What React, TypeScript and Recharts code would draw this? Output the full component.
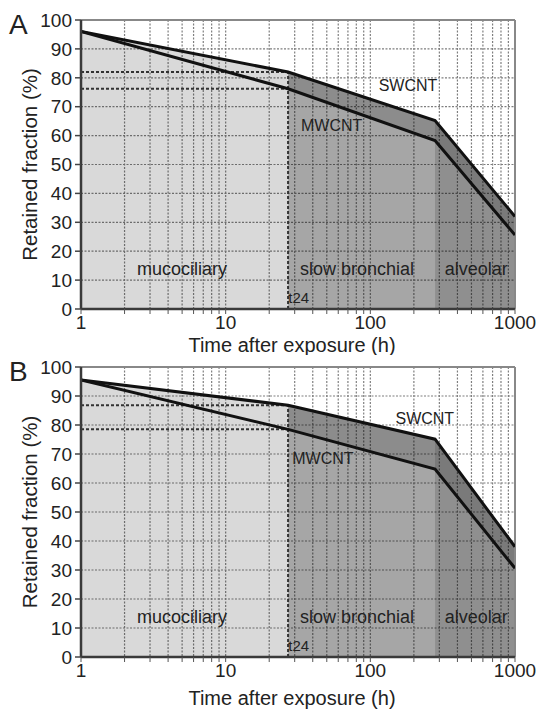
import {
  ComposedChart,
  Area,
  Line,
  XAxis,
  YAxis,
  CartesianGrid,
  ReferenceLine,
  ReferenceDot,
  Label,
} from 'recharts';

// time points (h) where the retention curves change slope
const hours = [1, 27, 280, 1000];
const T24 = 27;
const ALV_START = 280;

// retained fraction (%)
const swcntA = [96, 82, 65.2, 32];
const mwcntA = [96, 76.2, 58.3, 25.6];
const swcntB = [95.5, 86.8, 75.1, 38];
const mwcntB = [95.5, 78.5, 64.8, 30.6];

const xTicks = [
  1, 2, 3, 4, 5, 6, 7, 8, 9, 10, 20, 30, 40, 50, 60, 70, 80, 90, 100, 200, 300, 400, 500, 600,
  700, 800, 900, 1000,
];
const xLabels = [1, 10, 100, 1000];
const yTicks = [0, 10, 20, 30, 40, 50, 60, 70, 80, 90, 100];

const FONT = '"Liberation Sans", Arial, Helvetica, sans-serif';
const INK = '#222';

type Row = {
  h: number;
  sw: number;
  mw: number;
  muco: number | null;
  bronBase: number | null;
  bronBand: [number, number] | null;
  alvBase: number | null;
  alvBand: [number, number] | null;
};

function buildRows(sw: number[], mw: number[]): Row[] {
  return hours.map((h, i) => {
    const inBron = h >= T24 && h <= ALV_START;
    const inAlv = h >= ALV_START;
    return {
      h,
      sw: sw[i],
      mw: mw[i],
      muco: h <= T24 ? sw[i] : null,
      bronBase: inBron ? mw[i] : null,
      bronBand: inBron ? [mw[i], sw[i]] : null,
      alvBase: inAlv ? mw[i] : null,
      alvBand: inAlv ? [mw[i], sw[i]] : null,
    };
  });
}

interface PanelProps {
  letter: string;
  sw: number[];
  mw: number[];
  top: number;
  height: number;
  marginTop: number;
  axisHeight: number;
  titleDy: number;
  swLabel: { x: number; y: number };
  mwLabel: { x: number; y: number };
}

const textLabel = (value: string, size: number) => ({
  value,
  position: 'center' as const,
  fontSize: size,
  fill: INK,
  fontFamily: FONT,
});

function Panel({ letter, sw, mw, top, height, marginTop, axisHeight, titleDy, swLabel, mwLabel }: PanelProps) {
  const rows = buildRows(sw, mw);
  const i24 = hours.indexOf(T24);

  const yTitle = (props: any) => {
    const vb = props.viewBox;
    const cx = vb.x + 29;
    const cy = vb.y + vb.height / 2;
    return (
      <text
        x={cx}
        y={cy}
        transform={`rotate(-90 ${cx} ${cy})`}
        textAnchor="middle"
        dominantBaseline="central"
        fontSize={20.5}
        fontFamily={FONT}
        fill={INK}
      >
        Retained fraction (%)
      </text>
    );
  };

  const xTitle = (props: any) => {
    const vb = props.viewBox;
    return (
      <text
        x={vb.x + vb.width / 2 - 6}
        y={vb.y + titleDy}
        textAnchor="middle"
        dominantBaseline="central"
        fontSize={20}
        fontFamily={FONT}
        fill={INK}
      >
        Time after exposure (h)
      </text>
    );
  };

  return (
    <div style={{ position: 'absolute', left: 0, top, width: 536, height }}>
      <ComposedChart
        width={536}
        height={height}
        data={rows}
        margin={{ top: marginTop, right: 21, bottom: 0, left: 0 }}
      >
        <CartesianGrid stroke="#7f7f7f" strokeDasharray="2 1.5" strokeWidth={1.2} />
        <XAxis
          dataKey="h"
          type="number"
          scale="log"
          domain={[1, 1000]}
          ticks={xTicks}
          interval={0}
          allowDataOverflow
          height={axisHeight}
          tickSize={5}
          tickMargin={2}
          tickFormatter={(v: number) => (xLabels.includes(v) ? String(v) : '')}
          tick={{ fontSize: 19, fill: INK, fontFamily: FONT }}
          axisLine={{ stroke: '#3a3a3a', strokeWidth: 2.5 }}
          tickLine={{ stroke: '#555' }}
        >
          <Label content={xTitle} />
        </XAxis>
        <YAxis
          type="number"
          domain={[0, 100]}
          ticks={yTicks}
          interval={0}
          width={81}
          tickSize={6}
          tickMargin={3}
          tick={{ fontSize: 19, fill: INK, fontFamily: FONT }}
          axisLine={{ stroke: '#3a3a3a', strokeWidth: 2.5 }}
          tickLine={{ stroke: '#444', strokeWidth: 1.5 }}
        >
          <Label content={yTitle} />
        </YAxis>

        <Area dataKey="muco" stroke="none" fill="#000" fillOpacity={0.15} isAnimationActive={false} />
        <Area dataKey="bronBase" stroke="none" fill="#000" fillOpacity={0.35} isAnimationActive={false} />
        <Area dataKey="bronBand" stroke="none" fill="#000" fillOpacity={0.45} isAnimationActive={false} />
        <Area dataKey="alvBase" stroke="none" fill="#000" fillOpacity={0.44} isAnimationActive={false} />
        <Area dataKey="alvBand" stroke="none" fill="#000" fillOpacity={0.52} isAnimationActive={false} />

        <ReferenceLine y={100} stroke="#888" strokeWidth={2} />
        <ReferenceLine x={1000} stroke="#888" strokeWidth={2} />

        <ReferenceLine
          segment={[{ x: 1, y: sw[i24] }, { x: T24, y: sw[i24] }]}
          stroke="#333"
          strokeWidth={2}
          strokeDasharray="3 2"
        />
        <ReferenceLine
          segment={[{ x: 1, y: mw[i24] }, { x: T24, y: mw[i24] }]}
          stroke="#333"
          strokeWidth={2}
          strokeDasharray="3 2"
        />
        <ReferenceLine
          segment={[{ x: T24, y: 0 }, { x: T24, y: sw[i24] }]}
          stroke="#333"
          strokeWidth={2}
          strokeDasharray="3 2"
        />

        <Line dataKey="sw" type="linear" stroke="#111" strokeWidth={3} dot={false} isAnimationActive={false} />
        <Line dataKey="mw" type="linear" stroke="#111" strokeWidth={3} dot={false} isAnimationActive={false} />

        <ReferenceDot x={5} y={14} r={0} fill="none" stroke="none" label={textLabel('mucociliary', 18)} />
        <ReferenceDot x={81} y={14} r={0} fill="none" stroke="none" label={textLabel('slow bronchial', 18)} />
        <ReferenceDot x={540} y={14} r={0} fill="none" stroke="none" label={textLabel('alveolar', 18)} />
        <ReferenceDot x={32} y={4} r={0} fill="none" stroke="none" label={textLabel('t24', 15)} />
        <ReferenceDot x={swLabel.x} y={swLabel.y} r={0} fill="none" stroke="none" label={textLabel('SWCNT', 16)} />
        <ReferenceDot x={mwLabel.x} y={mwLabel.y} r={0} fill="none" stroke="none" label={textLabel('MWCNT', 16)} />
      </ComposedChart>
      <div
        style={{
          position: 'absolute',
          left: 9,
          top: marginTop - 9,
          fontSize: 28,
          fontFamily: FONT,
          color: INK,
          lineHeight: '28px',
        }}
      >
        {letter}
      </div>
    </div>
  );
}

export default function App() {
  return (
    <div style={{ position: 'absolute', left: 0, top: 0, width: 536, height: 709, background: '#fff' }}>
      <Panel
        letter="A"
        sw={swcntA}
        mw={mwcntA}
        top={0}
        height={355}
        marginTop={20}
        axisHeight={46}
        titleDy={36}
        swLabel={{ x: 182, y: 77.5 }}
        mwLabel={{ x: 54, y: 63.7 }}
      />
      <Panel
        letter="B"
        sw={swcntB}
        mw={mwcntB}
        top={355}
        height={354}
        marginTop={12}
        axisHeight={52}
        titleDy={41}
        swLabel={{ x: 238, y: 82.4 }}
        mwLabel={{ x: 47, y: 68.6 }}
      />
    </div>
  );
}
